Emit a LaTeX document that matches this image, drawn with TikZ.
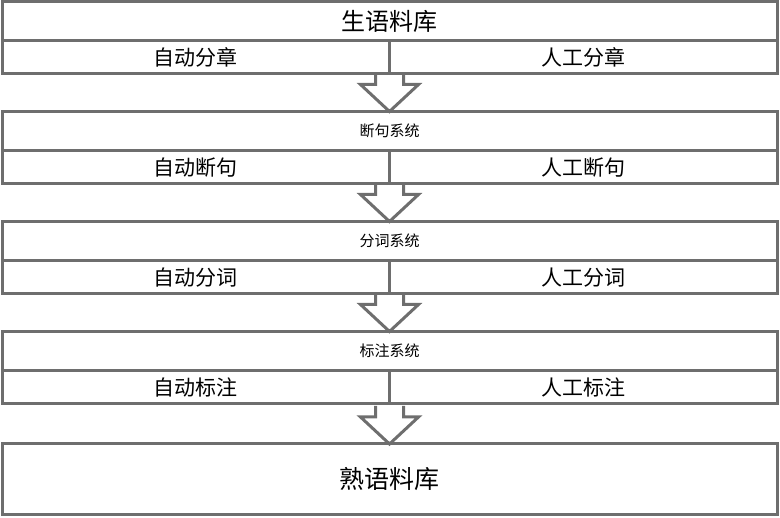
\documentclass[tikz,border=0pt]{standalone}
\usepackage{fontspec}
\setmainfont{Noto Sans CJK SC}
\usetikzlibrary{calc}
\definecolor{edge}{RGB}{110,110,110}
\tikzset{
  box/.style={draw=edge, line width=3pt, fill=white, inner sep=0pt, outer sep=0pt},
  headbox/.style={box, minimum width=775pt, minimum height=39pt},
  halfbox/.style={box, minimum width=387.5pt, minimum height=33.5pt, font=\fontsize{21pt}{21pt}\selectfont},
  bigarrow/.style={draw=edge, line width=3pt, line join=miter},
}
\begin{document}
\begin{tikzpicture}[x=1pt,y=-1pt]
\useasboundingbox (0,0) rectangle (780,518);
% block 1
\node[headbox, font=\fontsize{24pt}{24pt}\selectfont] (h1) at (389.5,21) {生语料库};
\node[halfbox] (l1) at (195.75,57.25) {自动分章};
\node[halfbox] (r1) at (583.25,57.25) {人工分章};
% block 2
\node[headbox, font=\fontsize{15pt}{15pt}\selectfont] (h2) at (389.5,131) {断句系统};
\node[halfbox] (l2) at (195.75,167.25) {自动断句};
\node[halfbox] (r2) at (583.25,167.25) {人工断句};
% block 3
\node[headbox, font=\fontsize{15pt}{15pt}\selectfont] (h3) at (389.5,241) {分词系统};
\node[halfbox] (l3) at (195.75,277.25) {自动分词};
\node[halfbox] (r3) at (583.25,277.25) {人工分词};
% block 4
\node[headbox, font=\fontsize{15pt}{15pt}\selectfont] (h4) at (389.5,351) {标注系统};
\node[halfbox] (l4) at (195.75,387.25) {自动标注};
\node[halfbox] (r4) at (583.25,387.25) {人工标注};
% final
\node[box, minimum width=775pt, minimum height=71pt, font=\fontsize{25pt}{25pt}\selectfont] (f) at (389.5,479.5) {熟语料库};
% arrows
\foreach \a/\b in {r1/h2, r2/h3, r3/h4, r4/f}{
  \draw[bigarrow] ($(\b.north)+(-14,-38)$) -- ($(\b.north)+(-14,-27)$) -- ($(\b.north)+(-29,-27)$)
    -- (\b.north) -- ($(\b.north)+(29,-27)$) -- ($(\b.north)+(14,-27)$) -- ($(\b.north)+(14,-38)$);
}
\end{tikzpicture}
\end{document}
